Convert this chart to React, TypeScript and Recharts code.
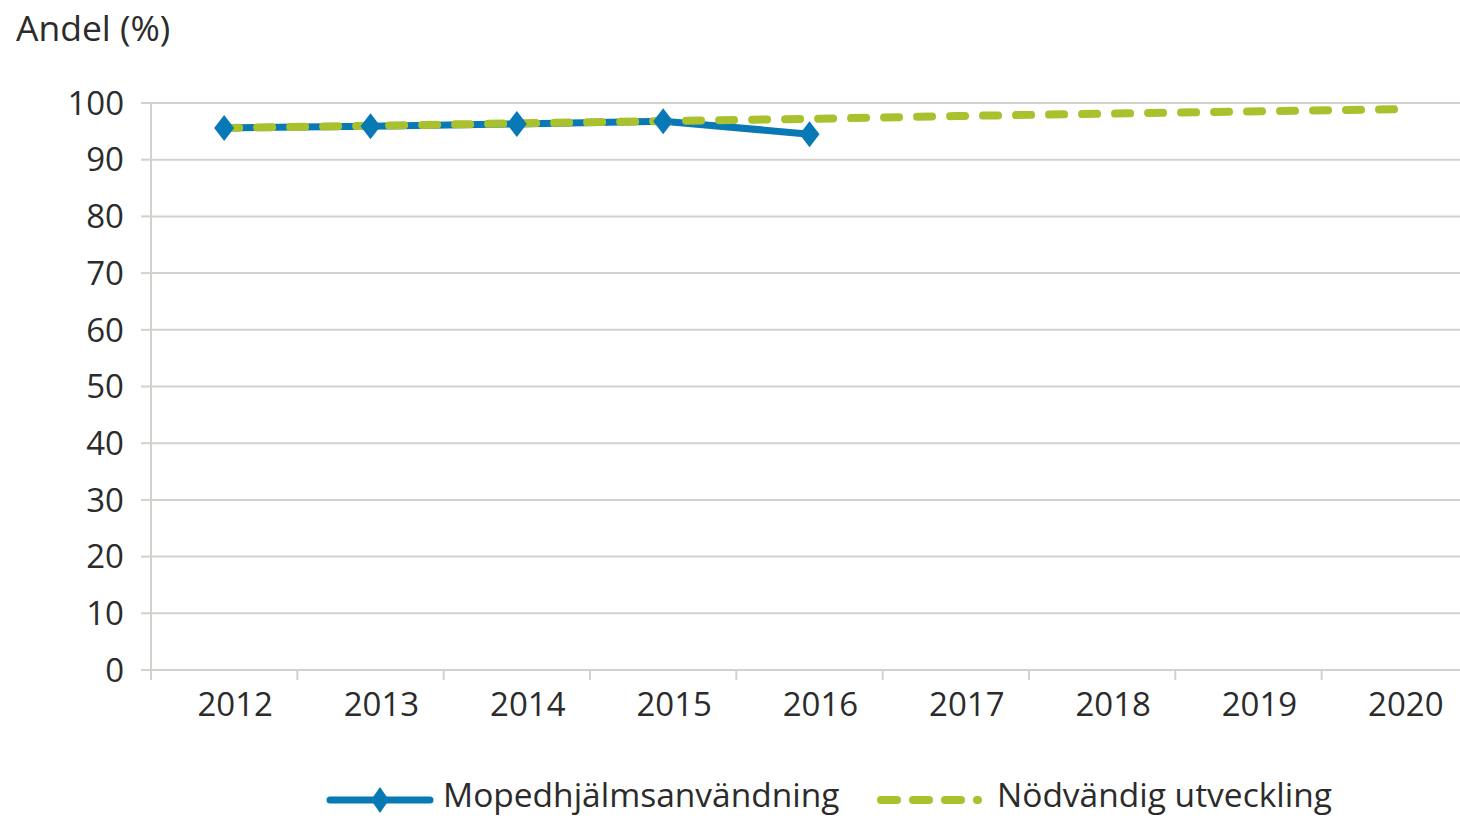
import { LineChart, Line, XAxis, YAxis, CartesianGrid, Legend } from 'recharts'

const years = ['2012', '2013', '2014', '2015', '2016', '2017', '2018', '2019', '2020']
const helmetUse = [95.6, 95.9, 96.3, 96.8, 94.5, null, null, null, null]
const required = [95.6, 96.0, 96.4, 96.8, 97.2, 97.7, 98.1, 98.5, 98.9]
const yTicks = [0, 10, 20, 30, 40, 50, 60, 70, 80, 90, 100]

const BLUE = '#0979b5'
const GREEN = '#a9c12d'
const GRID = '#d4d1cc'
const TEXT = '#2b2b2b'
const FONT = '"Open Sans", Lato, sans-serif'

// plot area runs a few px past the right edge, like the original
const PLOT_LEFT = 151
const PLOT_RIGHT = 1468
const BAND = (PLOT_RIGHT - PLOT_LEFT) / years.length

const data = years.map((y, i) => ({ year: y, use: helmetUse[i], need: required[i] }))

function Diamond({ cx, cy }: any) {
  if (cx == null || cy == null) return null
  return <path d={`M${cx},${cy - 13} L${cx + 10},${cy} L${cx},${cy + 13} L${cx - 10},${cy} Z`} fill={BLUE} />
}

function YearTick({ x, y, payload }: any) {
  const bx = x - BAND / 2
  return (
    <g>
      <line x1={bx} x2={bx} y1={y} y2={y + 10} stroke={GRID} strokeWidth={2} />
      <text x={x + 11} y={y + 46} textAnchor="middle" fill={TEXT} fontSize={33} fontFamily={FONT}>
        {payload.value}
      </text>
    </g>
  )
}

function ChartLegend() {
  return (
    <div style={{ height: 89, position: 'relative', fontFamily: FONT, fontSize: 33.5, color: TEXT }}>
      <svg width={110} height={30} style={{ position: 'absolute', left: 326, top: 55 }}>
        <line x1={4} x2={104} y1={15} y2={15} stroke={BLUE} strokeWidth={7} strokeLinecap="round" />
        <path d="M54,2 L63,15 L54,28 L45,15 Z" fill={BLUE} />
      </svg>
      <span style={{ position: 'absolute', left: 443, top: 41, whiteSpace: 'nowrap' }}>Mopedhjälmsanvändning</span>
      <svg width={110} height={30} style={{ position: 'absolute', left: 874, top: 55 }}>
        <line x1={7} x2={104} y1={15} y2={15} stroke={GREEN} strokeWidth={8} strokeLinecap="round" strokeDasharray="16 16" />
      </svg>
      <span style={{ position: 'absolute', left: 997, top: 41, whiteSpace: 'nowrap' }}>Nödvändig utveckling</span>
    </div>
  )
}

export default function App() {
  return (
    <div style={{ position: 'absolute', left: 0, top: 0, width: 1460, height: 819, background: '#fff', overflow: 'hidden' }}>
      <div style={{ position: 'absolute', left: 16, top: 3, fontFamily: FONT, fontSize: 35.5, color: TEXT }}>Andel (%)</div>
      <LineChart width={1468} height={819} data={data} margin={{ top: 103, right: 0, bottom: 0, left: 0 }}>
        <CartesianGrid vertical={false} stroke={GRID} strokeWidth={2} />
        <XAxis
          dataKey="year"
          scale="band"
          height={60}
          interval={0}
          axisLine={{ stroke: GRID, strokeWidth: 2 }}
          tickLine={false}
          tickSize={0}
          tickMargin={0}
          tick={<YearTick />}
        />
        <YAxis
          width={151}
          domain={[0, 100]}
          ticks={yTicks}
          interval={0}
          axisLine={{ stroke: GRID, strokeWidth: 2 }}
          tickLine={{ stroke: GRID, strokeWidth: 2 }}
          tickSize={10}
          tickMargin={17}
          tick={{ fontSize: 33, fontFamily: FONT, fill: TEXT }}
        />
        <Legend verticalAlign="bottom" content={<ChartLegend />} />
        <Line dataKey="use" stroke={BLUE} strokeWidth={7} dot={<Diamond />} activeDot={false} isAnimationActive={false} connectNulls={false} />
        <Line dataKey="need" stroke={GREEN} strokeWidth={8} strokeLinecap="round" strokeDasharray="15 18" dot={false} activeDot={false} isAnimationActive={false} />
      </LineChart>
    </div>
  )
}
